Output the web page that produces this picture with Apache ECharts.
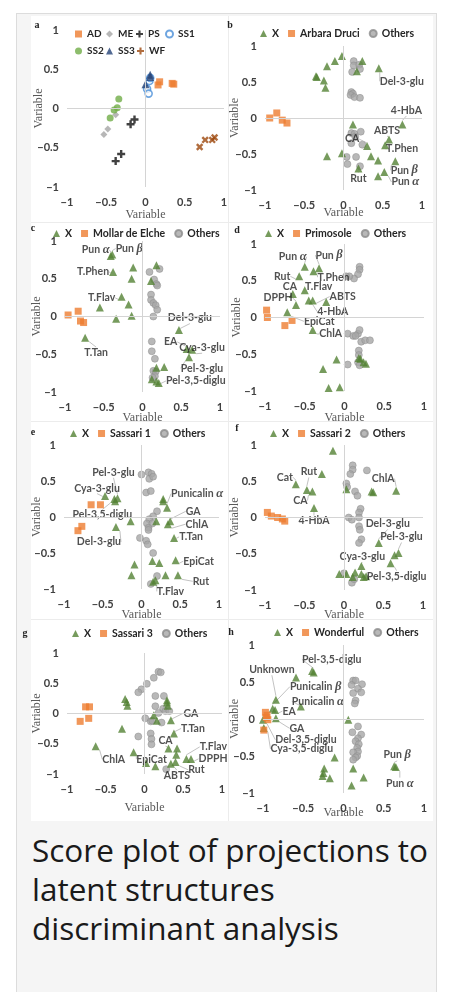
<!DOCTYPE html>
<html>
<head>
<meta charset="utf-8">
<script src="https://cdn.jsdelivr.net/npm/echarts@6/dist/echarts.min.js"></script>
<style>
  html, body { margin: 0; padding: 0; background: #fff; width: 450px; height: 992px; overflow: hidden; }
  .card { position: absolute; left: 16px; top: 13px; width: 419px; height: 990px; background: #f5f5f5; border: 1px solid #dcdcdc; }
  .fig { position: absolute; left: 31px; top: 16px; width: 402px; height: 805px; background: #fff; }
  .sep { position: absolute; background: #ececec; }
  .caption { position: absolute; left: 32px; top: 830px; font-family: 'Open Sans', sans-serif; font-size: 31.5px; line-height: 39px; color: #1a1a1a; }
  #chart { position: absolute; left: 0; top: 0; width: 450px; height: 992px; }
</style>
</head>
<body>
<div class="card"></div>
<div class="fig"></div>
<div class="sep" style="left:31px;top:222px;width:402px;height:1px"></div>
<div class="sep" style="left:31px;top:421px;width:402px;height:1px"></div>
<div class="sep" style="left:31px;top:619px;width:402px;height:1px"></div>
<div class="sep" style="left:228px;top:16px;width:1px;height:805px"></div>
<div class="caption">Score plot of projections to<br>latent structures<br>discriminant analysis</div>
<div id="chart"></div>
<script>
// ---- data ----
const ticks = [-1, -0.5, 0, 0.5, 1]

// a
const aAD = [[0.18, 0.34], [0.16, 0.30], [0.34, 0.32], [0.36, 0.31]]
const aME = [[-0.38, -0.08], [-0.48, -0.26], [-0.53, -0.33]]
const aPS = [[-0.14, -0.14], [-0.19, -0.20], [-0.31, -0.58], [-0.38, -0.67]]
const aSS1 = [[0.02, 0.25], [0.04, 0.19], [0.05, 0.35], [0.06, 0.39]]
const aSS2 = [[-0.34, 0.12], [-0.36, 0.01], [-0.40, -0.02], [-0.45, -0.12]]
const aSS3 = [[0.0, 0.31], [0.06, 0.43], [0.06, 0.40]]
const aWF = [[0.69, -0.49], [0.76, -0.40], [0.85, -0.40], [0.88, -0.37]]

// b
const bX = [[-0.02, 0.86], [-0.11, 0.79], [-0.21, 0.72], [-0.35, 0.58], [-0.34, 0.57], [-0.25, 0.52], [-0.23, 0.42],
  [0.24, 0.79], [0.17, 0.65], [0.45, 0.69], [0.75, -0.09], [0.12, -0.09], [0.58, -0.30], [0.53, -0.38],
  [0.30, -0.39], [-0.21, -0.53], [-0.02, -0.49], [0.35, -0.53], [0.44, -0.59], [0.66, -0.60],
  [0.52, -0.75], [0.44, -0.81], [0.19, -0.70]]
const bXNames = ['', '', '', '', '', '', '', '', '', 'Del-3-glu', '4-HbA', '', 'ABTS', 'T.Phen',
  'CA', '', '', '', '', 'Pun β', 'Pun α', '', 'Rut']
const bArbara = [[-0.94, 0.0], [-0.85, 0.07], [-0.78, -0.03], [-0.72, -0.07]]
const bOthers = [[0.13, 0.79], [0.13, 0.73], [0.20, 0.74], [0.11, 0.64], [0.21, 0.68], [0.10, 0.36], [0.12, 0.34],
  [0.09, 0.32], [0.14, 0.29], [0.21, 0.28], [0.10, -0.21], [0.14, -0.22], [0.22, -0.19], [0.10, -0.35],
  [0.15, -0.26], [0.24, -0.37], [0.04, -0.54], [0.16, -0.54], [0.05, -0.64], [0.21, -0.67]]

// c
const cX = [[-0.41, 0.80], [-0.39, 0.82], [-0.38, 0.59], [-0.12, 0.65], [-0.14, 0.50], [0.18, 0.68], [0.11, 0.47],
  [-0.27, 0.26], [-0.18, 0.16], [-0.55, 0.12], [-0.34, -0.03], [-0.14, 0.01], [-0.74, -0.28], [0.47, -0.18],
  [0.57, -0.43], [0.64, -0.44], [0.60, -0.54], [0.18, -0.68], [0.28, -0.67], [0.12, -0.83], [0.21, -0.88], [0.18, -0.86]]
const cXNames = ['Pun α', 'Pun β', 'T.Phen', '', '', '', '', 'T.Flav', '', '', '', '', 'T.Tan', 'Del-3-glu',
  'EA', 'Cya-3-glu', 'Pel-3-glu', '', '', '', 'Pel-3,5-diglu', '']
const cMollar = [[-0.96, 0.02], [-0.83, 0.07], [-0.80, -0.06], [-0.76, -0.08]]
const cOthers = [[0.09, 0.59], [0.22, 0.63], [0.15, 0.49], [0.18, 0.43], [0.19, 0.41], [0.11, 0.29], [0.11, 0.22],
  [0.14, 0.18], [0.17, 0.15], [0.19, 0.09], [0.14, 0.0], [0.12, -0.33], [0.12, -0.46], [0.16, -0.56],
  [0.14, -0.72], [0.17, -0.73], [0.16, -0.79], [0.13, -0.81]]

// d
const dX = [[-0.50, 0.69], [-0.39, 0.63], [-0.32, 0.67], [-0.57, 0.56], [-0.50, 0.37], [-0.65, 0.32], [-0.61, 0.17],
  [-0.45, 0.23], [-0.40, 0.23], [-0.23, 0.21], [-0.72, 0.07], [-0.40, -0.17], [-0.10, -0.57], [-0.27, -0.70],
  [-0.20, -0.96], [-0.06, -0.95], [0.18, -0.55], [0.20, -0.56], [0.24, -0.61], [0.27, -0.63]]
const dXNames = ['Pun α', 'T.Phen', 'Pun β', 'Rut', 'T.Flav', 'CA', 'DPPH', '4-HbA', 'ABTS', '', 'EpiCat', 'ChlA',
  '', '', '', '', '', '', '', '']
const dPrimosole = [[-0.98, 0.10], [-0.97, 0.0], [-0.75, -0.11], [-0.66, -0.04]]
const dOthers = [[0.19, 0.69], [0.19, 0.65], [0.17, 0.59], [0.12, 0.53], [0.06, 0.56], [0.02, 0.56], [0.04, -0.22],
  [0.11, -0.25], [0.17, -0.22], [0.19, -0.17], [0.14, -0.25], [0.21, -0.33], [0.26, -0.31], [0.32, -0.31],
  [0.18, -0.45], [0.18, -0.51], [0.17, -0.61], [0.04, -0.64], [0.19, -0.65]]

// e
const eX = [[-0.47, 0.29], [-0.35, 0.25], [-0.31, 0.26], [-0.34, 0.22], [-0.14, -0.06], [-0.33, -0.14], [0.28, 0.25],
  [0.28, 0.22], [0.33, 0.13], [0.19, -0.06], [0.37, -0.06], [0.34, -0.10], [0.42, -0.29], [-0.09, -0.66],
  [-0.13, -0.81], [0.14, -0.61], [0.23, -0.64], [0.44, -0.60], [0.31, -0.81], [0.47, -0.81], [0.18, -0.88], [0.15, -0.90]]
const eXNames = ['Cya-3-glu', 'Pel-3,5-diglu', 'Pel-3-glu', '', '', 'Del-3-glu', '', '', 'Punicalin α', '', 'GA', 'ChlA',
  'T.Tan', '', '', '', '', 'EpiCat', '', 'Rut', 'T.Flav', '']
const eSassari1 = [[-0.65, 0.17], [-0.53, 0.17], [-0.77, -0.13], [-0.82, -0.19]]
const eOthers = [[0.0, 0.59], [0.09, 0.62], [0.13, 0.60], [0.10, 0.53], [0.15, 0.56], [0.06, 0.34], [0.12, 0.36],
  [0.20, 0.08], [0.15, 0.01], [0.10, -0.03], [0.07, -0.09], [0.14, -0.09], [0.09, -0.15], [0.09, -0.18],
  [-0.02, -0.29], [0.06, -0.33], [0.08, -0.38], [0.15, -0.50], [0.20, -0.82], [0.12, -0.93]]

// f
const fX = [[-0.14, 0.92], [-0.28, 0.60], [-0.61, 0.46], [-0.47, 0.38], [-0.40, 0.36], [-0.38, 0.13], [0.03, 0.39],
  [0.35, 0.36], [0.37, 0.35], [0.66, 0.37], [0.44, -0.35], [0.64, -0.52], [0.69, -0.49], [0.59, -0.63],
  [0.22, -0.67], [-0.06, -0.78], [0.03, -0.78], [0.14, -0.76], [0.22, -0.78], [0.25, -0.82], [0.28, -0.81], [0.11, -0.82]]
const fXNames = ['', '', 'Cat', 'Rut', 'CA', '4-HbA', '', '', '', 'ChlA', 'Del-3-glu', '', 'Pel-3-glu', 'Pel-3,5-diglu',
  'Cya-3-glu', '', '', '', '', '', '', '']
const fSassari2 = [[-0.97, 0.07], [-0.92, 0.02], [-0.84, 0.0], [-0.78, -0.02], [-0.75, -0.05]]
const fOthers = [[0.11, 0.72], [0.11, 0.66], [0.08, 0.60], [0.29, 0.65], [0.03, 0.47], [0.04, 0.42], [0.14, 0.36],
  [0.17, 0.30], [0.21, 0.12], [0.19, 0.07], [0.06, 0.0], [0.10, -0.03], [0.19, 0.0], [0.19, -0.12],
  [0.20, -0.17], [0.22, -0.30], [0.19, -0.35], [0.0, -0.77], [0.10, -0.90], [0.13, -0.85]]

// g
const gX = [[-0.25, 0.24], [-0.23, 0.19], [-0.22, 0.13], [0.29, 0.22], [0.29, 0.18], [0.30, 0.13], [0.12, -0.03],
  [0.16, -0.12], [0.34, -0.11], [0.38, -0.33], [-0.29, -0.25], [-0.63, -0.54], [-0.14, -0.64], [0.31, -0.58],
  [0.42, -0.58], [0.41, -0.68], [0.54, -0.75], [0.60, -0.75], [0.34, -0.83], [0.40, -0.80], [0.14, -0.87], [0.02, -0.82]]
const gXNames = ['', '', '', '', '', '', '', '', 'GA', 'T.Tan', '', 'ChlA', 'EpiCat', 'CA', '', '', 'T.Flav', 'DPPH',
  'ABTS', 'Rut', '', '']
const gSassari3 = [[-0.76, 0.11], [-0.71, 0.11], [-0.72, -0.08], [-0.83, -0.13]]
const gOthers = [[0.18, 0.69], [0.21, 0.68], [0.12, 0.59], [0.03, 0.49], [-0.04, 0.40], [-0.08, 0.35], [0.14, 0.29],
  [0.25, 0.29], [0.14, 0.12], [0.24, 0.08], [0.27, 0.04], [0.32, 0.04], [0.18, 0.01], [0.01, -0.08],
  [0.08, -0.13], [0.10, -0.12], [0.22, -0.15], [-0.08, -0.38], [0.08, -0.33], [0.09, -0.42], [0.09, -0.51], [0.28, -0.92]]

// h
const hX = [[-0.39, 0.65], [-0.37, 0.63], [-0.59, 0.56], [-0.84, 0.26], [-0.88, 0.14], [-0.85, 0.12], [-0.53, 0.17],
  [-0.84, 0.01], [-1.0, -0.01], [-0.99, -0.12], [0.06, -0.01], [-0.11, -0.52], [-0.24, -0.67], [-0.25, -0.73],
  [-0.26, -0.77], [-0.17, -0.80], [0.12, -0.67], [0.25, -0.79], [0.10, -0.90], [0.63, -0.64], [0.65, -0.65]]
const hXNames = ['', 'Pel-3,5-diglu', '', 'Unknown', 'Punicalin β', 'EA', 'Punicalin α', 'GA', 'Del-3,5-diglu',
  'Cya-3,5-diglu', '', '', '', '', '', '', '', '', '', 'Pun β', 'Pun α']
const hWonderful = [[-0.97, 0.09], [-0.95, 0.05], [-0.94, -0.01], [-0.96, 0.02], [-0.99, -0.15]]
const hOthers = [[0.12, 0.52], [0.15, 0.52], [0.10, 0.46], [0.23, 0.47], [0.18, 0.41], [0.12, 0.35], [0.22, 0.36],
  [0.15, 0.25], [0.14, 0.21], [0.18, -0.10], [0.11, -0.18], [0.22, -0.21], [0.18, -0.26], [0.15, -0.30],
  [0.19, -0.34], [0.17, -0.39], [0.18, -0.44], [0.12, -0.45], [0.17, -0.50], [0.15, -0.52], [0.12, -0.55]]

// ---- layout (pixels) ----
const frames = {
  a: { box: [67, 30, 157, 157], xGap: 22, yGap: 22, letter: [37, 25],
    legends: [[75, 29], [106, 29], [136, 29], [165, 29], [75, 46], [106, 46], [137, 46]] },
  b: { box: [265, 46, 157, 144], xGap: 17, yGap: 24, letter: [230, 25], legends: [[260, 28]] },
  c: { box: [65, 241, 155, 151], xGap: 20, yGap: 22, letter: [33, 228], legends: [[53, 228]] },
  d: { box: [265, 244, 159, 147], xGap: 21, yGap: 22, letter: [237, 230], legends: [[265, 228]] },
  e: { box: [64, 445, 155, 144], xGap: 20, yGap: 21, letter: [33, 432], legends: [[70, 428]] },
  f: { box: [265, 445, 158, 145], xGap: 19, yGap: 24, letter: [237, 428], legends: [[270, 428]] },
  g: { box: [67, 653, 155, 121], xGap: 28, yGap: 24, letter: [25, 633], legends: [[72, 628]] },
  h: { box: [263, 645, 161, 148], xGap: 14, yGap: 22, letter: [231, 632], legends: [[274, 627]] }
}

// label offsets from the point, px
const labelOffsets = {
  b: { 'Del-3-glu': [23, 13], '4-HbA': [4, -14], 'ABTS': [-2, -9], 'T.Phen': [17, 3], 'CA': [-15, -7],
    'Pun β': [9, 9], 'Pun α': [21, 10], 'Rut': [0, 10] },
  c: { 'Pun α': [-15, -6], 'Pun β': [17, -6], 'T.Phen': [-20, 0], 'T.Flav': [-20, 1], 'T.Tan': [11, 15],
    'Del-3-glu': [11, -12], 'EA': [-16, -7], 'Cya-3-glu': [10, -2], 'Pel-3-glu': [13, 11], 'Pel-3,5-diglu': [37, -2] },
  d: { 'Pun α': [-12, -10], 'Pun β': [10, -13], 'T.Phen': [20, 6], 'Rut': [-17, 0], 'T.Flav': [14, -4],
    'CA': [-3, -7], 'DPPH': [-18, -7], '4-HbA': [24, 11], 'ABTS': [30, -4], 'EpiCat': [32, 9], 'ChlA': [18, 4] },
  e: { 'Cya-3-glu': [-8, -8], 'Pel-3,5-diglu': [-12, 16], 'Pel-3-glu': [-4, -26], 'Del-3-glu': [-17, 15],
    'Punicalin α': [30, -14], 'GA': [23, -10], 'ChlA': [29, 0], 'T.Tan': [17, -1], 'EpiCat': [23, 1],
    'Rut': [23, 6], 'T.Flav': [15, 11] },
  f: { 'Cat': [-11, -7], 'Rut': [2, -18], 'CA': [-12, 9], '4-HbA': [0, 13], 'ChlA': [-13, -12],
    'Del-3-glu': [9, -19], 'Pel-3-glu': [3, -16], 'Cya-3-glu': [1, -9], 'Pel-3,5-diglu': [6, 13] },
  g: { 'GA': [20, -7], 'T.Tan': [19, -5], 'CA': [-3, -8], 'ChlA': [18, 13], 'EpiCat': [18, 7],
    'T.Flav': [27, -12], 'DPPH': [22, 0], 'Rut': [21, 8], 'ABTS': [6, 12] },
  h: { 'Pel-3,5-diglu': [18, -13], 'Unknown': [-4, -30], 'Punicalin β': [43, -22], 'EA': [14, 1],
    'Punicalin α': [17, -5], 'GA': [21, 10], 'Del-3,5-diglu': [43, 20], 'Cya-3,5-diglu': [38, 21],
    'Pun β': [3, -12], 'Pun α': [4, 17] }
}

const plusPath = 'path://M3.5,0H6.5V3.5H10V6.5H6.5V10H3.5V6.5H0V3.5H3.5Z'
const marks = {
  X: { symbol: 'triangle', symbolSize: 8, itemStyle: { color: '#548235' }, z: 3 },
  group: { symbol: 'rect', symbolSize: 7, itemStyle: { color: '#ed7d31' }, z: 4 },
  others: { symbol: 'circle', symbolSize: 7, itemStyle: { color: '#a6a6a6', borderColor: '#8c8c8c', borderWidth: 0.6 }, z: 2 },
  ME: { symbol: 'diamond', symbolSize: 7, itemStyle: { color: '#a5a5a5' }, z: 2 },
  PS: { symbol: plusPath, symbolSize: 8, itemStyle: { color: '#111' }, z: 2 },
  SS1: { symbol: 'circle', symbolSize: 7, itemStyle: { color: '#fff', borderColor: '#4a8fd8', borderWidth: 1.6 }, z: 2 },
  SS2: { symbol: 'circle', symbolSize: 7, itemStyle: { color: '#70ad47' }, z: 2 },
  SS3: { symbol: 'triangle', symbolSize: 8, itemStyle: { color: '#264478' }, z: 3 },
  WF: { symbol: plusPath, symbolSize: 8, symbolRotate: 45, itemStyle: { color: '#9e480e' }, z: 2 }
}

const tickFont = { fontFamily: 'Lato', fontWeight: 'bold', fontSize: 11, color: '#404040' }
const nameFont = { fontFamily: 'Liberation Serif', fontSize: 12, color: '#595959' }
const legendFont = { fontFamily: 'Lato', fontWeight: 'bold', fontSize: 10.5, color: '#262626' }

const fmt = (v) => v < 0 ? '\u2212' + Math.abs(v) : String(v)

const grids = [], xAxes = [], yAxes = [], series = [], legends = [], graphics = []

const makeAxis = (gi, gap, isY) => ({
  gridIndex: gi,
  type: 'value',
  min: ticks[0],
  max: ticks[ticks.length - 1],
  interval: ticks[1] - ticks[0],
  axisLine: { show: false, onZero: false },
  axisTick: { show: false },
  splitLine: { show: false },
  axisLabel: { ...tickFont, margin: isY ? 8 : 10, formatter: fmt, showMinLabel: true, showMaxLabel: true },
  name: 'Variable',
  nameLocation: 'middle',
  nameGap: gap,
  nameMoveOverlap: false,
  nameTextStyle: nameFont
})

const makeSeries = (gi, name, style, data, names, offs, zeroLines) => {
  const s = {
    type: 'scatter',
    name,
    xAxisIndex: gi,
    yAxisIndex: gi,
    ...marks[style],
    data: data.map((p, i) => {
      const nm = names ? names[i] : ''
      return nm ? { value: p, name: nm, label: { show: true } } : { value: p }
    })
  }
  if (names) {
    s.label = {
      show: false,
      position: 'inside',
      formatter: (p) => p.name.replace(/([αβ])/g, '{g|$1}'),
      ...legendFont,
      rich: { g: { fontFamily: 'Liberation Serif', fontStyle: 'italic', fontSize: 12.5, color: '#262626' } }
    }
    s.labelLine = { show: true, lineStyle: { color: '#b3b3b3', width: 0.8 } }
    s.labelLayout = (p) => {
      const o = offs[names[p.dataIndex]]
      return o ? { dx: o[0], dy: o[1] } : {}
    }
  }
  if (zeroLines) {
    s.markLine = {
      silent: true,
      symbol: 'none',
      label: { show: false },
      lineStyle: { color: '#d4d4d4', width: 1, type: 'solid' },
      data: [{ xAxis: 0 }, { yAxis: 0 }]
    }
  }
  return s
}

const addPanel = (id, gi, list, legendRows, legendSize) => {
  const f = frames[id]
  grids.push({ left: f.box[0], top: f.box[1], width: f.box[2], height: f.box[3], outerBoundsMode: 'none' })
  xAxes.push(makeAxis(gi, f.xGap, false))
  yAxes.push(makeAxis(gi, f.yGap, true))
  list.forEach((it, k) => series.push(makeSeries(gi, it[0], it[1], it[2], it[3], labelOffsets[id], k === 0)))
  legendRows.forEach((row, r) => legends.push({
    left: f.legends[r][0],
    top: f.legends[r][1],
    padding: 0,
    itemGap: 9,
    itemWidth: 7,
    itemHeight: 7,
    selectedMode: false,
    textStyle: { ...legendFont, fontSize: legendSize || legendFont.fontSize },
    data: row
  }))
  graphics.push({
    type: 'text', x: f.letter[0], y: f.letter[1],
    style: { text: id, font: 'bold 10px "Liberation Serif"', fill: '#222', align: 'center', verticalAlign: 'middle' }
  })
}

addPanel('a', 0, [
  ['ME', 'ME', aME], ['AD', 'group', aAD], ['PS', 'PS', aPS], ['SS1', 'SS1', aSS1],
  ['SS2', 'SS2', aSS2], ['SS3', 'SS3', aSS3], ['WF', 'WF', aWF]
], [['AD'], ['ME'], ['PS'], ['SS1'], ['SS2'], ['SS3'], ['WF']], 10)
addPanel('b', 1, [['Others', 'others', bOthers], ['X', 'X', bX, bXNames], ['Arbara Druci', 'group', bArbara]],
  [['X', 'Arbara Druci', 'Others']])
addPanel('c', 2, [['Others', 'others', cOthers], ['X', 'X', cX, cXNames], ['Mollar de Elche', 'group', cMollar]],
  [['X', 'Mollar de Elche', 'Others']])
addPanel('d', 3, [['Others', 'others', dOthers], ['X', 'X', dX, dXNames], ['Primosole', 'group', dPrimosole]],
  [['X', 'Primosole', 'Others']])
addPanel('e', 4, [['Others', 'others', eOthers], ['X', 'X', eX, eXNames], ['Sassari 1', 'group', eSassari1]],
  [['X', 'Sassari 1', 'Others']])
addPanel('f', 5, [['Others', 'others', fOthers], ['X', 'X', fX, fXNames], ['Sassari 2', 'group', fSassari2]],
  [['X', 'Sassari 2', 'Others']])
addPanel('g', 6, [['Others', 'others', gOthers], ['X', 'X', gX, gXNames], ['Sassari 3', 'group', gSassari3]],
  [['X', 'Sassari 3', 'Others']])
addPanel('h', 7, [['Others', 'others', hOthers], ['X', 'X', hX, hXNames], ['Wonderful', 'group', hWonderful]],
  [['X', 'Wonderful', 'Others']])

const chart = echarts.init(document.getElementById('chart'), null, { renderer: 'canvas' })
chart.setOption({
  animation: false,
  backgroundColor: 'transparent',
  textStyle: { fontFamily: 'Lato' },
  grid: grids,
  xAxis: xAxes,
  yAxis: yAxes,
  legend: legends,
  graphic: graphics,
  series: series
})
</script>
</body>
</html>
